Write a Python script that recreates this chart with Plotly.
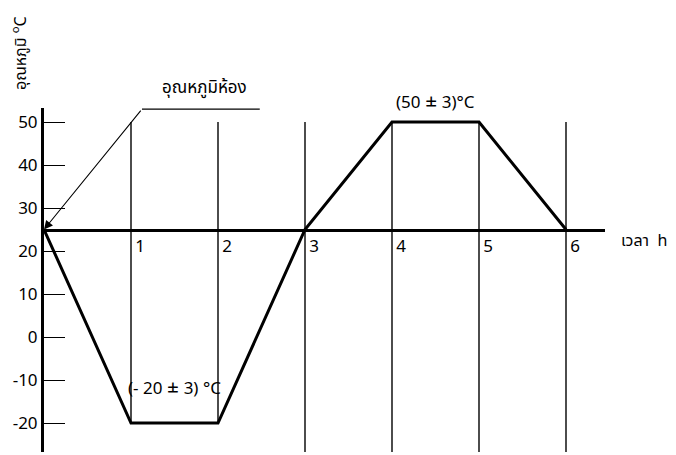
import plotly.graph_objects as go

# ---- data ----
hours = [0, 1, 2, 3, 4, 5, 6]
temps = [25, -20, -20, 25, 50, 50, 25]
hour_tick_vals = [1, 2, 3, 4, 5, 6]
hour_tick_text = ["1", "2", "3", "4", "5", "6"]
temp_tick_vals = [-20, -10, 0, 10, 20, 30, 40, 50]
temp_tick_text = ["-20", "-10", "0", "10", "20", "30", "40", "50"]
room_temp = 25
y_title = "อุณหภูมิ <sup>o</sup>C"
x_title = "เวลา&nbsp;&nbsp;h"
room_label = "อุณหภูมิห้อง"
high_label = "(50 ± 3)°C"
low_label = "(- 20 ± 3) °C"

# ---- layout geometry (page has an 8px body margin) ----
OFF = 8
PAGE_W, PAGE_H = 676, 455
W, H = PAGE_W - OFF, PAGE_H - OFF
# plot area in page pixels: left 44, top 108, right 605, bottom 452
ml, mt = 44 - OFF, 108 - OFF
mr = W - (605 - OFF)
mb = H - (452 - OFF)
px_per_h = 87.0
px_per_deg = 4.3
pw, ph = W - ml - mr, H - mt - mb
x_range = [0, pw / px_per_h]
y_top = room_temp + (229.5 - 108) / px_per_deg
y_bot = y_top - ph / px_per_deg
y_range = [y_bot, y_top]
xaxis_pos = (room_temp - y_bot) / (y_top - y_bot)


def px_to_paper(px, py):
    # page pixel -> paper fraction
    return (px - OFF - ml) / pw, (H - mb - (py - OFF)) / ph


FONT = "Noto Sans Thai, Tahoma, Loma, Garuda, DejaVu Sans, sans-serif"
fig = go.Figure()

# vertical guide lines at each hour
tmax, tmin = max(temps), min(temps)
gx, gy = [], []
for h in hour_tick_vals:
    bottom = tmin if h in (1, 2) else y_bot
    gx += [h, h, None]
    gy += [tmax, bottom, None]
fig.add_trace(go.Scatter(x=gx, y=gy, mode="lines",
                         line=dict(color="black", width=1.4),
                         hoverinfo="skip", cliponaxis=False))

# temperature profile
fig.add_trace(go.Scatter(x=hours, y=temps, mode="lines",
                         line=dict(color="black", width=3),
                         hoverinfo="skip"))

# leader line for room temperature label
lead_x0, lead_x1, lead_y = 1.126, 2.48, 53.0
fig.add_trace(go.Scatter(x=[lead_x0, lead_x1], y=[lead_y, lead_y], mode="lines",
                         line=dict(color="black", width=1.2),
                         hoverinfo="skip", cliponaxis=False))

xt_x, xt_y = px_to_paper(619, 241)
yt_x, yt_y = px_to_paper(20, 53)

annotations = [
    dict(x=0, y=room_temp, ax=lead_x0, ay=lead_y, xref="x", yref="y",
         axref="x", ayref="y", text="", showarrow=True, arrowhead=2,
         arrowsize=1.6, arrowwidth=1.1, arrowcolor="black"),
    dict(x=1.85, y=lead_y, xref="x", yref="y", text=room_label,
         showarrow=False, yanchor="bottom", yshift=6,
         font=dict(size=17, color="black", family=FONT)),
    dict(x=4.5, y=tmax, xref="x", yref="y", text=high_label,
         showarrow=False, yanchor="bottom", yshift=4,
         font=dict(size=17, color="black", family=FONT)),
    dict(x=1.5, y=-12, xref="x", yref="y", text=low_label,
         showarrow=False, yanchor="middle",
         font=dict(size=17, color="black", family=FONT)),
    dict(x=xt_x, y=xt_y, xref="paper", yref="paper", text=x_title,
         showarrow=False, xanchor="left", yanchor="middle",
         font=dict(size=16, color="black", family=FONT)),
    dict(x=yt_x, y=yt_y, xref="paper", yref="paper", text=y_title,
         showarrow=False, textangle=-90, xanchor="center", yanchor="middle",
         font=dict(size=16, color="black", family=FONT)),
]

fig.update_layout(
    width=W, height=H,
    margin=dict(l=ml, r=mr, t=mt, b=mb, autoexpand=False),
    paper_bgcolor="white", plot_bgcolor="white",
    showlegend=False,
    font=dict(family=FONT, size=16, color="black"),
    annotations=annotations,
    xaxis=dict(range=x_range, anchor="free", position=xaxis_pos,
               automargin=False,
               showline=True, linewidth=3, linecolor="black",
               showgrid=False, zeroline=False,
               tickmode="array", tickvals=hour_tick_vals, ticktext=hour_tick_text,
               ticks="", ticklabelshift=9, ticklabelstandoff=0,
               tickfont=dict(size=17, color="black", family=FONT)),
    yaxis=dict(range=y_range, automargin=False,
               showline=True, linewidth=3, linecolor="black",
               showgrid=False, zeroline=False,
               tickmode="array", tickvals=temp_tick_vals, ticktext=temp_tick_text,
               ticks="inside", ticklen=21, tickwidth=1.2, tickcolor="black",
               tickfont=dict(size=17, color="black", family=FONT)),
)

fig.write_html("out.html")
